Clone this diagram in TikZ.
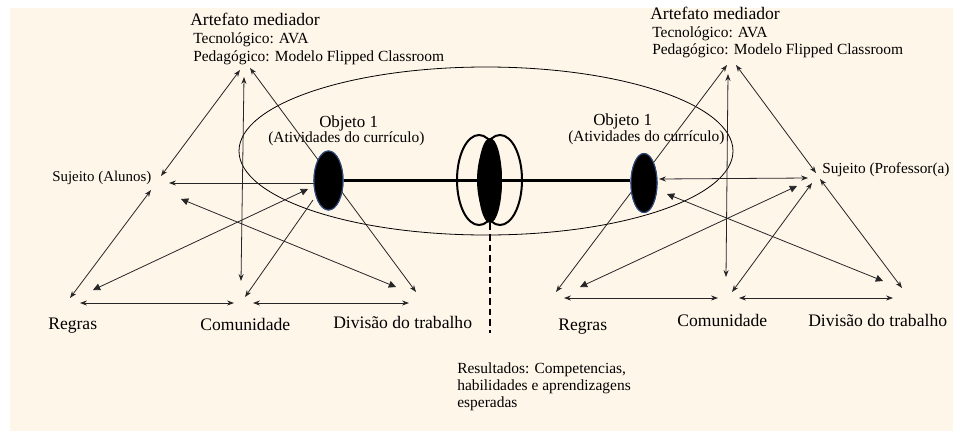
\documentclass[tikz,border=0pt]{standalone}
\usepackage{fontspec}
\setmainfont{Liberation Serif}
\usetikzlibrary{arrows.meta,shapes.geometric}
\definecolor{cream}{HTML}{FFF6EA}
\definecolor{objblue}{HTML}{2F4A7A}
\begin{document}
\begin{tikzpicture}[x=0.75pt,y=-0.75pt,
  big/.style={font=\fontsize{13.2}{15}\selectfont, inner sep=0pt, anchor=base west},
  small/.style={font=\fontsize{11.6}{12.75}\selectfont, inner sep=0pt, anchor=base west},
  conn/.style={draw=black!85, line width=0.6pt},
  ah/.tip={Stealth[length=5.2pt,width=3.8pt]},
  fh/.tip={Triangle[length=5.4pt,width=5.2pt]},
  objstyle/.style={ellipse, fill=black, draw=objblue, line width=0.8pt, inner sep=0pt},
  ring/.style={ellipse, draw=black, line width=1.5pt, inner sep=0pt, minimum width=33pt, minimum height=67.5pt}
]
\useasboundingbox (0,0) rectangle (953,436);
\fill[cream] (10,8) rectangle (953,431);

% ---------- texts ----------
\node[big]   (artL) at (190,25) {Artefato mediador};
\node[small] (tecL) at (193,43) {Tecnológico: AVA};
\node[small] (pedL) at (193,61) {Pedagógico: Modelo Flipped Classroom};
\node[big, font=\fontsize{12.7}{14}\selectfont] (objtL) at (319,127) {Objeto 1};
\node[small] (atvL) at (268,142.5) {(Atividades do currículo)};
\node[small, font=\fontsize{11.2}{13}\selectfont] (sujL) at (52,181) {Sujeito (Alunos)};
\node[big]   (regL) at (48,329) {Regras};
\node[big]   (comL) at (200,330) {Comunidade};
\node[big]   (divL) at (333,328) {Divisão do trabalho};

\node[big]   (artR) at (650,19) {Artefato mediador};
\node[small] (tecR) at (652,37) {Tecnológico: AVA};
\node[small] (pedR) at (652,54) {Pedagógico: Modelo Flipped Classroom};
\node[big, font=\fontsize{12.7}{14}\selectfont] (objtR) at (593,125.5) {Objeto 1};
\node[small] (atvR) at (568,141.5) {(Atividades do currículo)};
\node[small, font=\fontsize{11.5}{13}\selectfont] (sujR) at (822,173) {Sujeito (Professor(a)};
\node[big]   (regR) at (558,330) {Regras};
\node[big]   (comR) at (677,326) {Comunidade};
\node[big]   (divR) at (808,326) {Divisão do trabalho};

\node[small, anchor=north west, align=left] (res) at (457,362.5)
  {Resultados: Competencias,\\habilidades e aprendizagens\\esperadas};

% ---------- big thin ellipse ----------
\draw[line width=0.6pt] (486,151) ellipse [x radius=247, y radius=84];

% ---------- connector end points ----------
% left
\coordinate (aL1) at (240,70);  \coordinate (sL1) at (161,176);
\coordinate (aL2) at (244,77);  \coordinate (cL1) at (241,281);
\coordinate (aL3) at (250,68);  \coordinate (dL1) at (416,292);
\coordinate (oL1) at (314,183); \coordinate (sL2) at (169,183);
\coordinate (sL3) at (151,190); \coordinate (rL1) at (70,298);
\coordinate (sL4) at (181,199); \coordinate (dL2) at (396,287);
\coordinate (rL2) at (93,290);  \coordinate (oL2) at (308,189);
\coordinate (oL3) at (313,200); \coordinate (cL2) at (245,297);
\coordinate (rL3) at (80,303);  \coordinate (cL3) at (234,303);
\coordinate (cL4) at (253,303); \coordinate (dL3) at (409,303);
% right
\coordinate (aR1) at (736,65);  \coordinate (sR1) at (816,173);
\coordinate (aR2) at (728,74);  \coordinate (cR1) at (726,277);
\coordinate (aR3) at (727,65);  \coordinate (rR1) at (556,292);
\coordinate (oR1) at (659,179); \coordinate (sR2) at (808,178);
\coordinate (oR2) at (667,194); \coordinate (dR1) at (883,281);
\coordinate (rR2) at (580,287); \coordinate (sR3) at (797,186);
\coordinate (cR2) at (732,292); \coordinate (sR4) at (812,183);
\coordinate (sR5) at (820,179); \coordinate (dR2) at (902,288);
\coordinate (rR3) at (564,298); \coordinate (cR3) at (718,298);
\coordinate (cR4) at (739,298); \coordinate (dR3) at (893,298);
\coordinate (dashend) at (490,333);

% ---------- left connectors ----------
\draw[conn, ah-ah] (aL1) -- (sL1);
\draw[conn, ah-ah] (aL2) -- (cL1);
\draw[conn, ah-ah] (aL3) -- (dL1);
\draw[conn, -ah]   (oL1) -- (sL2);
\draw[conn, ah-ah] (sL3) -- (rL1);
\draw[conn, fh-fh] (sL4) -- (dL2);
\draw[conn, fh-fh] (rL2) -- (oL2);
\draw[conn, -ah]   (oL3) -- (cL2);
\draw[conn, ah-ah] (rL3) -- (cL3);
\draw[conn, ah-ah] (cL4) -- (dL3);
% ---------- right connectors ----------
\draw[conn, ah-ah] (aR1) -- (sR1);
\draw[conn, ah-ah] (aR2) -- (cR1);
\draw[conn, ah-ah] (aR3) -- (rR1);
\draw[conn, ah-ah] (oR1) -- (sR2);
\draw[conn, fh-fh] (oR2) -- (dR1);
\draw[conn, fh-fh] (rR2) -- (sR3);
\draw[conn, ah-ah] (cR2) -- (sR4);
\draw[conn, ah-ah] (sR5) -- (dR2);
\draw[conn, ah-ah] (rR3) -- (cR3);
\draw[conn, ah-ah] (cR4) -- (dR3);

% ---------- objects ----------
\node[objstyle, minimum width=21.75pt, minimum height=44.25pt] (objL) at (328.5,180.5) {};
\node[objstyle, minimum width=19.5pt, minimum height=44.25pt] (objR) at (644,183) {};
\draw[line width=2pt] (objL.east) -- (objL.east -| objR.west);
\node[ring] (ringL) at (479,180) {};
\node[ring] (ringR) at (500,180) {};
\node[ellipse, fill=black, inner sep=0pt, minimum width=18pt, minimum height=63.75pt] (core) at (490,180.5) {};
\draw[line width=2pt, dash pattern=on 5pt off 3pt] (core.south) -- (dashend);
% objects again above the thick line
\node[objstyle, minimum width=21.75pt, minimum height=44.25pt] at (objL) {};
\node[objstyle, minimum width=19.5pt, minimum height=44.25pt] at (objR) {};
\end{tikzpicture}
\end{document}
